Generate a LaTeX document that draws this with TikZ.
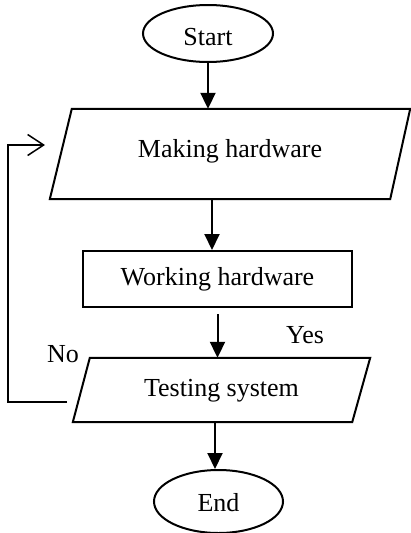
\documentclass[tikz,border=0pt]{standalone}
\usepackage{fontspec}
\setmainfont{Liberation Serif}
\usetikzlibrary{shapes.geometric,arrows.meta,calc}
\newcommand{\shiftup}[2]{\raisebox{#1}[\height][\depth]{#2}}
\begin{document}
\begin{tikzpicture}[x=1pt,y=-1pt,
  every node/.style={font=\fontsize{26}{30}\selectfont},
  term/.style={ellipse, draw, line width=2pt, minimum width=130pt, minimum height=57pt, inner sep=0pt},
  iobox/.style={rectangle, inner sep=0pt},
  ioline/.style={line width=2pt, line join=miter},
  proc/.style={rectangle, draw, line width=2pt, minimum width=269pt, minimum height=56pt, inner sep=0pt},
  arr/.style={line width=2pt, -{Triangle[length=16pt,width=15pt]}},
  fb/.style={line width=1.3pt, -{Straight Barb[length=16pt,width=21pt,line width=1.5pt]}},
  lbl/.style={inner sep=0pt}]
\useasboundingbox (0,0) rectangle (410,533);
\node[term] (start) at (208,33.5) {\shiftup{-4pt}{Start}};
\node[iobox, minimum width=360pt, minimum height=90pt] (making) at (230,154) {\shiftup{3pt}{Making hardware}};
\draw[ioline] ($(making.north west)+(22,0)$) -- (making.north east) -- ($(making.south east)+(-20,0)$) -- (making.south west) -- cycle;
\node[proc] (work) at (217.5,279) {Working hardware};
\node[iobox, minimum width=297pt, minimum height=64pt] (test) at (221.5,390) {\shiftup{-1pt}{Testing system}};
\draw[ioline] ($(test.north west)+(17,0)$) -- (test.north east) -- ($(test.south east)+(-18,0)$) -- (test.south west) -- cycle;
\node[term, minimum width=129pt, minimum height=63pt] (end) at (218.5,501.5) {\shiftup{-1.5pt}{End}};
\node[lbl] (yes) at (305,335) {Yes};
\node[lbl] (no) at (63,354) {No};
\draw[arr] (start.south) -- (start.south |- making.north);
\draw[arr] ($(work.north |- making.south)+(-5.5,0)$) -- ($(work.north)+(-5.5,0)$);
\draw[arr] ($(work.south)+(0,6)$) -- (work.south |- test.north);
\draw[arr] ($(end.north |- test.south)+(-3.5,0)$) -- ($(end.north)+(-3.5,0)$);
\coordinate (fbs) at (67,402);
\coordinate (fbe) at (45,145);
\draw[fb] (fbs) -- (8,402) |- (fbe);
\end{tikzpicture}
\end{document}
